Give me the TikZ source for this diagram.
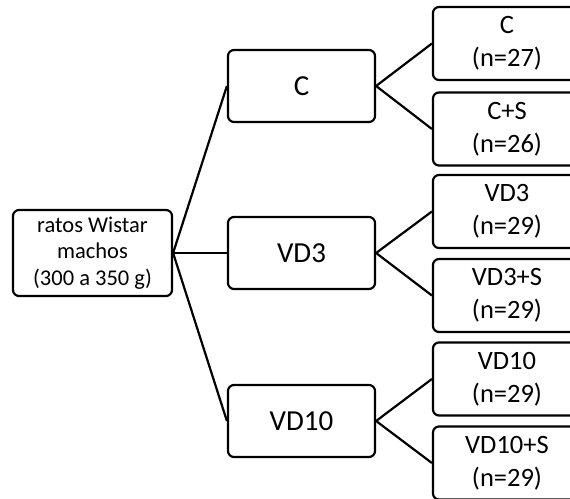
\documentclass[tikz,border=0pt]{standalone}
\usepackage{fontspec}
\setmainfont{Carlito}
\usepackage{tikz}

\tikzset{
  box/.style={draw, line width=2.2pt, rounded corners=6pt, align=center, inner sep=0pt},
  rootbox/.style={box, minimum width=159pt, minimum height=86pt, font=\fontsize{22.5}{26.5}\selectfont},
  groupbox/.style={box, minimum width=147pt, minimum height=72pt, font=\fontsize{29}{34}\selectfont},
  leafbox/.style={box, minimum width=148pt, minimum height=73pt, font=\fontsize{26.5}{33}\selectfont},
  link/.style={line width=2.2pt}
}

\begin{document}
\begin{tikzpicture}[x=1pt,y=1pt]
\useasboundingbox (0,0) rectangle (570,498);
\clip (0,0) rectangle (570,498);
% root
\node[rootbox] (rats) at (92.5,245) {ratos Wistar\\machos\\(300 a 350 g)};
% groups
\node[groupbox] (gC) at (301.5,412) {C};
\node[groupbox] (gVDthree) at (301.5,245) {VD3};
\node[groupbox] (gVDten) at (301.5,77) {VD10};
% subgroups
\node[leafbox] (sC) at (507,454.5) {C\\(n=27)};
\node[leafbox] (sCS) at (507,369) {C+S\\(n=26)};
\node[leafbox] (sVDthree) at (507,286.5) {VD3\\(n=29)};
\node[leafbox] (sVDthreeS) at (507,202.5) {VD3+S\\(n=29)};
\node[leafbox] (sVDten) at (507,119) {VD10\\(n=29)};
\node[leafbox] (sVDtenS) at (507,35) {VD10+S\\(n=29)};
% links
\draw[link] (rats.east) -- (gC.west);
\draw[link] (rats.east) -- (gVDthree.west);
\draw[link] (rats.east) -- (gVDten.west);
\draw[link] (gC.east) -- (sC.west);
\draw[link] (gC.east) -- (sCS.west);
\draw[link] (gVDthree.east) -- (sVDthree.west);
\draw[link] (gVDthree.east) -- (sVDthreeS.west);
\draw[link] (gVDten.east) -- (sVDten.west);
\draw[link] (gVDten.east) -- (sVDtenS.west);
\end{tikzpicture}
\end{document}
